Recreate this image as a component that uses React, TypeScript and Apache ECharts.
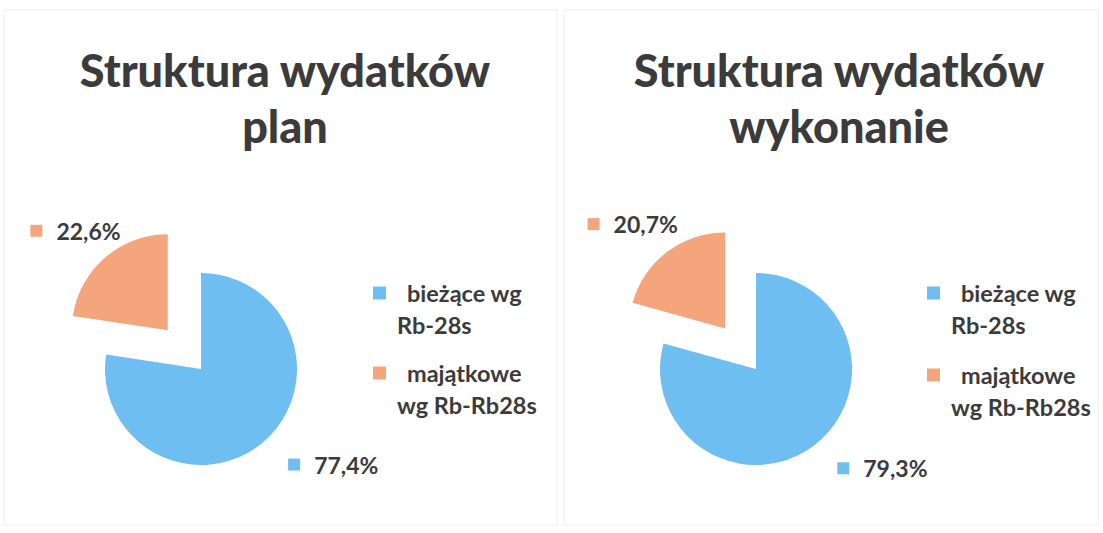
import React, { useEffect, useRef } from "react";
import * as echarts from "echarts";

const categories = ["bieżące wg Rb-28s", "majątkowe wg Rb-Rb28s"];
const legendLines = [
  ["bieżące wg", "Rb-28s"],
  ["majątkowe", "wg Rb-Rb28s"],
];
const planValues = [77.4, 22.6];
const executionValues = [79.3, 20.7];
const chartTitles = ["Struktura wydatków\nplan", "Struktura wydatków\nwykonanie"];
const sliceColors = ["#6EBEF2", "#F4A57C"];

const FONT = "Lato";
const TEXT = "#3b3b3b";

const fmt = (v: number) => v.toFixed(1).replace(".", ",") + "%";

function makePie(values: number[], center: [number, number], dxy: number[][]) {
  return {
    type: "pie",
    center,
    radius: 96,
    startAngle: 90,
    clockwise: true,
    selectedMode: "single",
    selectedOffset: 51,
    emphasis: { disabled: true },
    label: {
      show: true,
      position: "outside",
      formatter: (p: any) => `{m${p.dataIndex}| }{v|${fmt(p.value)}}`,
      rich: {
        m0: { width: 12, height: 12, backgroundColor: sliceColors[0] },
        m1: { width: 12, height: 12, backgroundColor: sliceColors[1] },
        v: {
          fontFamily: FONT,
          fontWeight: "bold",
          fontSize: 23,
          color: TEXT,
          padding: [0, 0, 0, 14],
        },
      },
    },
    labelLine: { show: false, length: 30, length2: 0 },
    labelLayout: (params: any) => ({ dx: dxy[params.dataIndex][0], dy: dxy[params.dataIndex][1] }),
    data: values.map((v, i) => ({
      name: categories[i],
      value: v,
      selected: i === 1,
      itemStyle: { color: sliceColors[i] },
    })),
  };
}

function makeLegend(idx: number, left: number, top: number) {
  return {
    data: [categories[idx]],
    left,
    top,
    orient: "vertical",
    icon: "rect",
    itemWidth: 13,
    itemHeight: 13,
    padding: 0,
    selectedMode: false,
    formatter: () => `{s| }\n{a|${legendLines[idx][0]}}\n{b|${legendLines[idx][1]}}`,
    textStyle: {
      fontFamily: FONT,
      fontWeight: "bold",
      fontSize: 23.5,
      color: TEXT,
      rich: {
        s: { fontSize: 23.5, lineHeight: 32 },
        a: { fontFamily: FONT, fontWeight: "bold", fontSize: 23.5, color: TEXT, lineHeight: 32, padding: [0, 0, 0, 16] },
        b: { fontFamily: FONT, fontWeight: "bold", fontSize: 23.5, color: TEXT, lineHeight: 32, padding: [0, 0, 0, 6] },
      },
    },
  };
}

export default function App() {
  const ref = useRef<HTMLDivElement>(null);
  useEffect(() => {
    document.body.style.margin = "0";
    const chart = echarts.init(ref.current!, null, { renderer: "svg" });
    chart.setOption({
      animation: false,
      backgroundColor: "#ffffff",
      title: chartTitles.map((t, i) => ({
        text: t,
        left: i === 0 ? 285 : 839,
        top: 42,
        textAlign: "center",
        padding: 0,
        textStyle: {
          fontFamily: FONT,
          fontWeight: 900,
          fontSize: 45,
          lineHeight: 56,
          color: TEXT,
        },
      })),
      legend: [
        makeLegend(0, 373, 249),
        makeLegend(1, 373, 329),
        makeLegend(0, 927, 249),
        makeLegend(1, 927, 331),
      ],
      graphic: [
        { type: "rect", shape: { x: 4, y: 10, width: 553, height: 515 }, style: { fill: "none", stroke: "#f4f4f4", lineWidth: 1.5 }, z: -1 },
        { type: "rect", shape: { x: 564, y: 10, width: 534, height: 515 }, style: { fill: "none", stroke: "#f4f4f4", lineWidth: 1.5 }, z: -1 },
      ],
      series: [
        makePie(planValues, [201, 369], [[0, 0], [40, -4]]),
        makePie(executionValues, [756, 369], [[0, -1], [34, -4]]),
      ],
    });
    return () => chart.dispose();
  }, []);
  return <div ref={ref} style={{ width: 1103, height: 533 }} />;
}
